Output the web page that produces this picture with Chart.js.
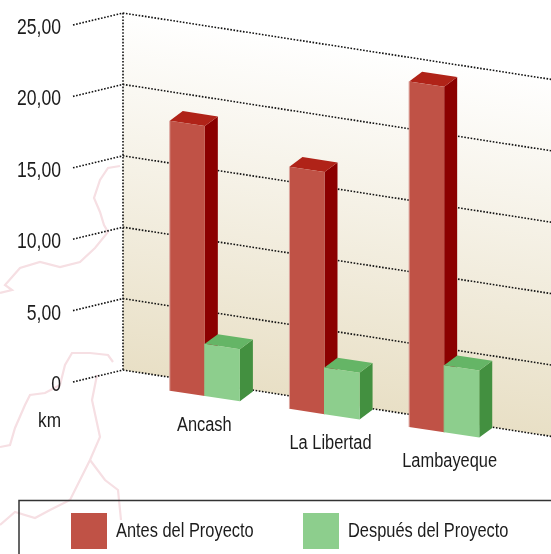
<!DOCTYPE html>
<html>
<head>
<meta charset="utf-8">
<style>
  html, body { margin: 0; padding: 0; background: #fff; overflow: hidden; }
  #wrap { position: relative; width: 551px; height: 554px; }
  #map { position: absolute; left: 0; top: 0; filter: blur(0.7px); }
  #c { position: absolute; left: 0; top: 0; }
</style>
<script src="https://cdn.jsdelivr.net/npm/chart.js@4"></script>
</head>
<body>
<div id="wrap">
  <!-- faint map behind the chart -->
  <svg id="map" width="551" height="554" fill="none" stroke="#f6dfe3" stroke-width="2.2">
    <path d="M120 166 L108 168 L100 180 L94 198 L100 212 L104 225 L108 232 L95 248 L80 262 L60 267 L40 262 L20 268 L5 285 L12 290 L0 293"/>
    <path d="M113 362 L108 355 L90 353 L72 353 L65 365 L60 385 L45 393 L30 395 L25 405 L15 428 L10 445 L0 447"/>
    <path d="M97 375 L92 400 L100 437 L90 460 L80 480 L70 500 L50 510 L35 518 L15 512 L0 525"/>
    <path d="M90 460 L105 480 L118 490 L121 520"/>
  </svg>
  <canvas id="c" width="551" height="554"></canvas>
</div>
<script>
const categories = ['Ancash', 'La Libertad', 'Lambayeque'];
const antes = [18.9, 16.95, 24.2];
const despues = [3.65, 3.27, 4.7];
const seriesNames = ['Antes del Proyecto', 'Después del Proyecto'];
const yTicks = [0, 5, 10, 15, 20, 25];

const FONT = '"Liberation Sans", sans-serif';
const INK = '#1c1c1c';

// 3D look: floor runs downhill to the right, bars have a depth offset
const SHEAR = 0.1517, SHEAR_X0 = 112.6;
const DEPTH_X = 13, DEPTH_Y = -9.7;
const WALL_X = 123, WALL_DY = -12, WALL_SLOPE = 0.155, TICK_X = 73;
const labelNudge = [-0.5, 6, 5.5];

const colors = {
  red: { front: '#c05246', side: '#8b0000', top: '#b02318', edge: '#dba69f' },
  green: { front: '#8dce8d', side: '#439040', top: '#65b566', edge: '#8dce8d' }
};
const sy = (x, y) => y + SHEAR * (x - SHEAR_X0);

function poly(ctx, pts, fill) {
  ctx.beginPath();
  pts.forEach((p, i) => i ? ctx.lineTo(p[0], p[1]) : ctx.moveTo(p[0], p[1]));
  ctx.closePath();
  ctx.fillStyle = fill;
  ctx.fill();
}

// no narrow font is installed, so squeeze the text sideways
function narrowText(ctx, text, x, y, size, squeeze) {
  ctx.save();
  ctx.font = size + 'px ' + FONT;
  ctx.translate(x, y);
  ctx.scale(squeeze, 1);
  ctx.fillText(text, 0, 0);
  ctx.restore();
}

const wallPlugin = {
  id: 'wall',
  beforeDatasetsDraw(chart) {
    const { ctx, scales: { y } } = chart;
    const W = chart.width;
    const top = y.getPixelForValue(25) + WALL_DY;
    const bot = y.getPixelForValue(0) + WALL_DY;
    const rise = (W - WALL_X) * WALL_SLOPE;
    const g = ctx.createLinearGradient(364, top + rise / 2, 310, bot + rise / 2);
    g.addColorStop(0, '#ffffff');
    g.addColorStop(1, '#e8dfc5');
    poly(ctx, [[WALL_X, top], [W, top + rise], [W, bot + rise], [WALL_X, bot]], g);

    ctx.save();
    ctx.strokeStyle = '#111';
    ctx.lineWidth = 1.6;
    ctx.setLineDash([1.6, 1.6]);
    yTicks.forEach(v => {
      const p = y.getPixelForValue(v);
      ctx.beginPath();
      ctx.moveTo(TICK_X, p);
      ctx.lineTo(WALL_X, p + WALL_DY);
      ctx.lineTo(W, p + WALL_DY + rise);
      ctx.stroke();
    });
    ctx.beginPath();
    ctx.moveTo(WALL_X, top);
    ctx.lineTo(WALL_X, bot);
    ctx.stroke();
    ctx.restore();

    // bars are drawn as boxes from the positions the scales gave them, red first
    chart.data.datasets.forEach((ds, i) => {
      chart.getDatasetMeta(i).data.forEach(bar => {
        const c = ds.box;
        const l = bar.x - bar.width / 2, r = bar.x + bar.width / 2;
        const tl = sy(l, bar.y), tr = sy(r, bar.y), bl = sy(l, bar.base), br = sy(r, bar.base);
        poly(ctx, [[r, tr], [r + DEPTH_X, tr + DEPTH_Y], [r + DEPTH_X, br + DEPTH_Y], [r, br]], c.side);
        poly(ctx, [[l, tl], [l + DEPTH_X, tl + DEPTH_Y], [r + DEPTH_X, tr + DEPTH_Y], [r, tr]], c.top);
        poly(ctx, [[l, tl], [r, tr], [r, br], [l, bl]], c.front);
        ctx.fillStyle = c.edge;
        ctx.fillRect(l - 0.5, tl, 1, bl - tl);
      });
    });
  },
  beforeDatasetDraw() {
    return false; // flat bars are replaced by the boxes above
  },
  afterDraw(chart) {
    const { ctx, scales: { x, y } } = chart;
    ctx.save();
    ctx.fillStyle = INK;
    ctx.textBaseline = 'middle';

    ctx.textAlign = 'right';
    yTicks.forEach(v => {
      const text = v === 0 ? '0' : v.toFixed(2).replace('.', ',');
      narrowText(ctx, text, 61, y.getPixelForValue(v) + 3, 22, 0.8);
    });
    narrowText(ctx, 'km', 61, y.getPixelForValue(0) + 39, 21, 0.82);

    ctx.textAlign = 'center';
    categories.forEach((name, i) => {
      const px = x.getPixelForTick(i);
      narrowText(ctx, name, px + labelNudge[i], sy(px, y.getPixelForValue(0)) + 29, 20, 0.82);
    });

    // legend box runs off the right and bottom of the picture
    ctx.strokeStyle = '#333';
    ctx.lineWidth = 1.5;
    ctx.strokeRect(19, 500.5, 560, 80);
    ctx.textAlign = 'left';
    [[71, 116], [303, 348]].forEach((pos, i) => {
      ctx.fillStyle = chart.data.datasets[i].box.front;
      ctx.fillRect(pos[0], 513, 36, 36);
      ctx.fillStyle = INK;
      narrowText(ctx, seriesNames[i], pos[1], 531, 20, 0.82);
    });
    ctx.restore();
  }
};

new Chart(document.getElementById('c'), {
  type: 'bar',
  data: {
    labels: categories,
    datasets: [
      { label: seriesNames[0], data: antes, backgroundColor: colors.red.front, box: colors.red },
      { label: seriesNames[1], data: despues, backgroundColor: colors.green.front, box: colors.green }
    ]
  },
  options: {
    responsive: false,
    animation: false,
    layout: { padding: { top: 25, bottom: 172, right: 47, left: 145 } },
    categoryPercentage: 0.586,
    barPercentage: 1,
    plugins: { legend: { display: false }, tooltip: { enabled: false } },
    scales: {
      x: { display: false },
      y: { display: false, min: 0, max: 25 }
    }
  },
  plugins: [wallPlugin]
});
</script>
</body>
</html>
